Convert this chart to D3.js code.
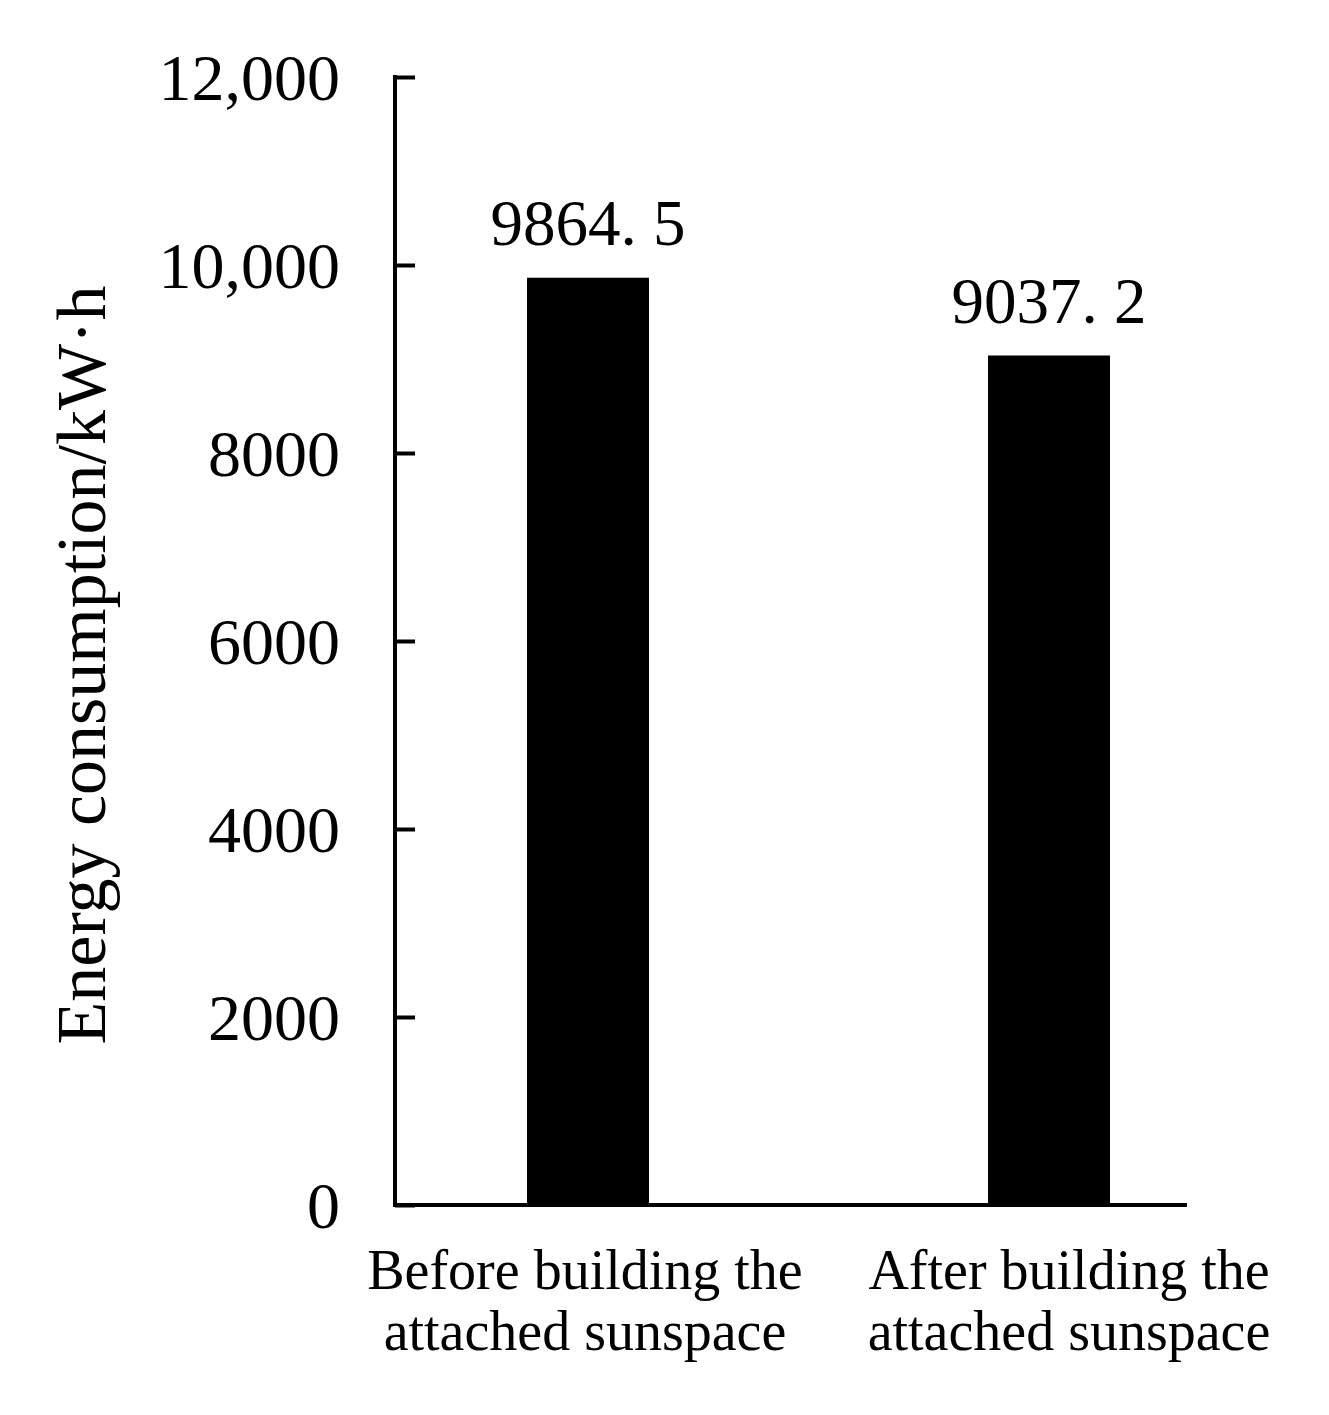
<!DOCTYPE html>
<meta charset="utf-8">
<script src="https://d3js.org/d3.v7.min.js"></script>
<style>
  body { margin: 0; background: #fff; }
  text { font-family: "Liberation Serif", "DejaVu Serif", serif; fill: #000; }
</style>
<div id="chart"></div>
<script>

// data
var categories = ["Before building the attached sunspace", "After building the attached sunspace"];
var labelLines = [["Before building the", "attached sunspace"], ["After building the", "attached sunspace"]];
var energy = [9864.5, 9037.2];
var valueLabels = ["9864. 5", "9037. 2"];
var yTicks = [0, 2000, 4000, 6000, 8000, 10000, 12000];
var yTickLabels = ["0", "2000", "4000", "6000", "8000", "10,000", "12,000"];

var W = 1329, H = 1415;
var svg = d3.select("#chart").append("svg")
    .attr("width", W).attr("height", H);

// axis box: left 395, right 1187, top 77, bottom 1205
var y = d3.scaleLinear().domain([0, 12000]).range([1205, 77]);
var x = d3.scalePoint().domain(categories).range([588, 1049]);
var barW = 122;

// bars
svg.append("g").selectAll("rect")
    .data(energy)
    .join("rect")
    .attr("x", (d, i) => x(categories[i]) - barW / 2)
    .attr("y", d => y(d))
    .attr("width", barW)
    .attr("height", d => y(0) - y(d))
    .attr("fill", "#000");

// value labels on top of bars
svg.append("g").selectAll("text")
    .data(energy)
    .join("text")
    .attr("x", (d, i) => x(categories[i]))
    .attr("y", d => y(d) - 33)
    .attr("text-anchor", "middle")
    .style("font-size", "65px")
    .text((d, i) => valueLabels[i]);

// y axis with ticks pointing inward
var yAxis = d3.axisRight(y)
    .tickValues(yTicks)
    .tickSize(20)
    .tickFormat("");
var gy = svg.append("g")
    .attr("transform", "translate(395,0)")
    .call(yAxis);
gy.select(".domain").remove();
gy.selectAll("line").attr("stroke", "#000").attr("stroke-width", 4);
gy.append("line")
    .attr("x1", 0).attr("x2", 0)
    .attr("y1", y(12000) - 2).attr("y2", y(0) + 2)
    .attr("stroke", "#000").attr("stroke-width", 4);

// tick labels
svg.append("g").selectAll("text")
    .data(yTicks)
    .join("text")
    .attr("x", 340)
    .attr("y", d => y(d))
    .attr("dy", "0.35em")
    .attr("text-anchor", "end")
    .style("font-size", "66px")
    .text((d, i) => yTickLabels[i]);

// x axis line
svg.append("line")
    .attr("x1", 393).attr("x2", 1187)
    .attr("y1", y(0)).attr("y2", y(0))
    .attr("stroke", "#000").attr("stroke-width", 4);

// category labels (second one sits a bit right of its bar)
var xl = svg.append("g").selectAll("text")
    .data(categories)
    .join("text")
    .attr("x", (d, i) => x(d) + (i === 1 ? 20 : -3))
    .attr("y", 1289)
    .attr("text-anchor", "middle")
    .style("font-size", "56px");
xl.selectAll("tspan")
    .data((d, i) => labelLines[i])
    .join("tspan")
    .attr("x", function () { return d3.select(this.parentNode).attr("x"); })
    .attr("dy", (d, j) => j === 0 ? 0 : 61)
    .text(d => d);

// y axis title
svg.append("text")
    .attr("transform", "translate(105,665) rotate(-90)")
    .attr("text-anchor", "middle")
    .style("font-size", "70px")
    .text("Energy consumption/kW·h");

</script>
